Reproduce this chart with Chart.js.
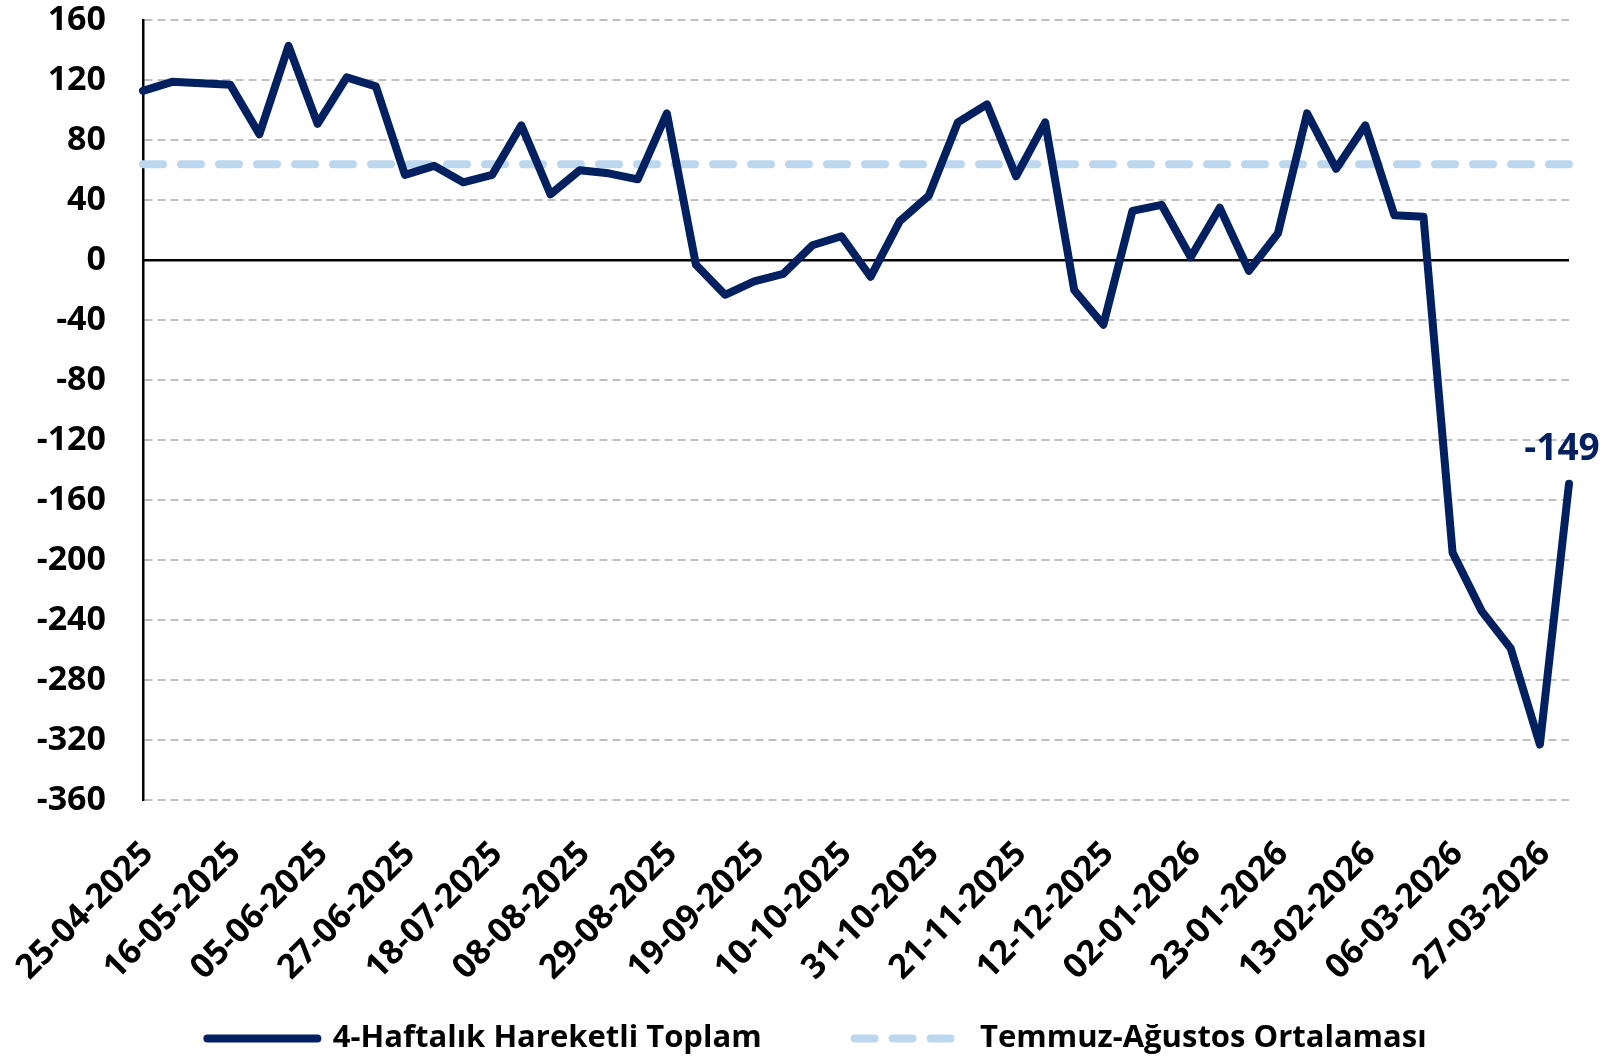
<!DOCTYPE html>
<html>
<head>
<meta charset="utf-8">
<title>4-Haftalık Hareketli Toplam</title>
<script src="https://cdn.jsdelivr.net/npm/chart.js@4.4.1/dist/chart.umd.min.js"></script>
<style>
    html, body { margin: 0; padding: 0; background: #ffffff; }
    canvas { display: block; }
</style>
</head>
<body>
<canvas id="myChart" width="1608" height="1064"></canvas>
<script>
'use strict';

// weekly dates, every third one is printed on the axis
var dates = [
    '25-04-2025', '02-05-2025', '09-05-2025', '16-05-2025', '23-05-2025', '30-05-2025',
    '05-06-2025', '13-06-2025', '20-06-2025', '27-06-2025', '04-07-2025', '11-07-2025',
    '18-07-2025', '25-07-2025', '01-08-2025', '08-08-2025', '15-08-2025', '22-08-2025',
    '29-08-2025', '05-09-2025', '12-09-2025', '19-09-2025', '26-09-2025', '03-10-2025',
    '10-10-2025', '17-10-2025', '24-10-2025', '31-10-2025', '07-11-2025', '14-11-2025',
    '21-11-2025', '28-11-2025', '05-12-2025', '12-12-2025', '19-12-2025', '26-12-2025',
    '02-01-2026', '09-01-2026', '16-01-2026', '23-01-2026', '30-01-2026', '06-02-2026',
    '13-02-2026', '20-02-2026', '27-02-2026', '06-03-2026', '13-03-2026', '20-03-2026',
    '27-03-2026', '03-04-2026'
];

var movingTotal = [
    113, 119, 118, 117, 84, 143, 91, 122, 116, 57,
    63, 52, 57, 90, 44, 60, 58, 54, 98, -3,
    -23, -14, -9, 10, 16, -11, 26, 43, 92, 104,
    56, 92, -20, -43, 33, 37, 2, 35, -7, 18,
    98, 61, 90, 30, 29, -195, -234, -259, -323, -149
];

var summerAverage = [
    64, 64, 64, 64, 64, 64, 64, 64, 64, 64,
    64, 64, 64, 64, 64, 64, 64, 64, 64, 64,
    64, 64, 64, 64, 64, 64, 64, 64, 64, 64,
    64, 64, 64, 64, 64, 64, 64, 64, 64, 64,
    64, 64, 64, 64, 64, 64, 64, 64, 64, 64
];

var yTicks = [-360, -320, -280, -240, -200, -160, -120, -80, -40, 0, 40, 80, 120, 160];

var navy = '#002060';
var lightBlue = '#bdd7ee';
var fontName = '"Open Sans", "Noto Sans", sans-serif';
var avgDash = [20, 18];
var plotBottom = 800;

// solid black line at zero, drawn under the series
var zeroLine = {
    id: 'zeroLine',
    beforeDatasetsDraw: function (chart) {
        var ctx = chart.ctx;
        var area = chart.chartArea;
        var y = chart.scales.y.getPixelForValue(0);
        ctx.save();
        ctx.strokeStyle = '#000000';
        ctx.lineWidth = 2.5;
        ctx.beginPath();
        ctx.moveTo(area.left, y);
        ctx.lineTo(area.right, y);
        ctx.stroke();
        ctx.restore();
    }
};

// value label on the last point
var lastLabel = {
    id: 'lastLabel',
    afterDatasetsDraw: function (chart) {
        var ctx = chart.ctx;
        var meta = chart.getDatasetMeta(0);
        var last = meta.data.length - 1;
        var pt = meta.data[last];
        ctx.save();
        ctx.font = 'bold 37px ' + fontName;
        ctx.fillStyle = navy;
        ctx.textAlign = 'center';
        ctx.textBaseline = 'middle';
        ctx.fillText(String(movingTotal[last]), pt.x - 7, pt.y - 34);
        ctx.restore();
    }
};

var ctx = document.getElementById('myChart').getContext('2d');
var chart = new Chart(ctx, {
    type: 'line',
    data: {
        labels: dates,
        datasets: [{
            label: '4-Haftalık Hareketli Toplam',
            data: movingTotal,
            borderColor: navy,
            backgroundColor: navy,
            borderWidth: 8,
            borderJoinStyle: 'round',
            borderCapStyle: 'round',
            pointRadius: 0,
            tension: 0
        }, {
            label: 'Temmuz-Ağustos Ortalaması',
            data: summerAverage,
            borderColor: lightBlue,
            backgroundColor: lightBlue,
            borderWidth: 8,
            borderDash: avgDash,
            borderCapStyle: 'round',
            pointRadius: 0,
            tension: 0
        }]
    },
    options: {
        responsive: false,
        animation: false,
        devicePixelRatio: 1,
        layout: {
            // more room on the left than on the right: legend sits a bit right of centre
            padding: { top: 20, right: 0, left: 26, bottom: 0 }
        },
        plugins: {
            tooltip: { enabled: false },
            legend: {
                display: true,
                position: 'bottom',
                labels: {
                    usePointStyle: true,
                    pointStyle: 'line',
                    pointStyleWidth: 110,
                    padding: 0,
                    color: '#000000',
                    font: { family: fontName, size: 31, weight: 'bold' },
                    generateLabels: function (chart) {
                        var items = Chart.defaults.plugins.legend.labels.generateLabels(chart);
                        // wider gap between the two entries
                        items[0].text = items[0].text + '\u2003\u2003\u2003';
                        items[0].lineCap = 'round';
                        items[1].lineCap = 'round';
                        items[1].lineDash = avgDash;
                        return items;
                    }
                }
            }
        },
        scales: {
            x: {
                offset: false,
                grid: {
                    display: true,
                    drawOnChartArea: false,
                    drawTicks: true,
                    tickLength: 34,
                    tickColor: 'rgba(0,0,0,0)'
                },
                border: { display: false },
                ticks: {
                    autoSkip: false,
                    maxRotation: 45,
                    minRotation: 45,
                    padding: 0,
                    labelOffset: 5,
                    color: '#000000',
                    font: { family: fontName, size: 34, weight: 'bold' },
                    callback: function (value, index) {
                        return index % 3 === 0 ? dates[index] : '';
                    }
                },
                afterFit: function (scale) {
                    var legendHeight = scale.chart.legend ? scale.chart.legend.height : 0;
                    scale.height = scale.chart.height - legendHeight - plotBottom;
                }
            },
            y: {
                min: yTicks[0],
                max: yTicks[yTicks.length - 1],
                afterBuildTicks: function (scale) {
                    scale.ticks = yTicks.map(function (v) { return { value: v }; });
                },
                grid: {
                    drawTicks: true,
                    tickLength: 37,
                    tickColor: 'rgba(0,0,0,0)',
                    lineWidth: 2,
                    color: function (c) {
                        return c.tick && c.tick.value === 0 ? 'rgba(0,0,0,0)' : '#bfbfbf';
                    }
                },
                border: { display: true, color: '#000000', width: 2.5, dash: [8, 5] },
                ticks: {
                    padding: 0,
                    color: '#000000',
                    font: { family: fontName, size: 34, weight: 'bold' }
                },
                afterFit: function (scale) {
                    // axis line stays at x = 143
                    scale.width = 117;
                }
            },
            // empty right-hand strip that keeps room for the -149 label
            rightSpace: {
                type: 'linear',
                position: 'right',
                display: true,
                grid: { display: false, drawTicks: false },
                border: { display: false },
                ticks: { display: false },
                afterFit: function (scale) {
                    scale.width = 39;
                }
            }
        }
    },
    plugins: [zeroLine, lastLabel]
});
</script>
</body>
</html>
